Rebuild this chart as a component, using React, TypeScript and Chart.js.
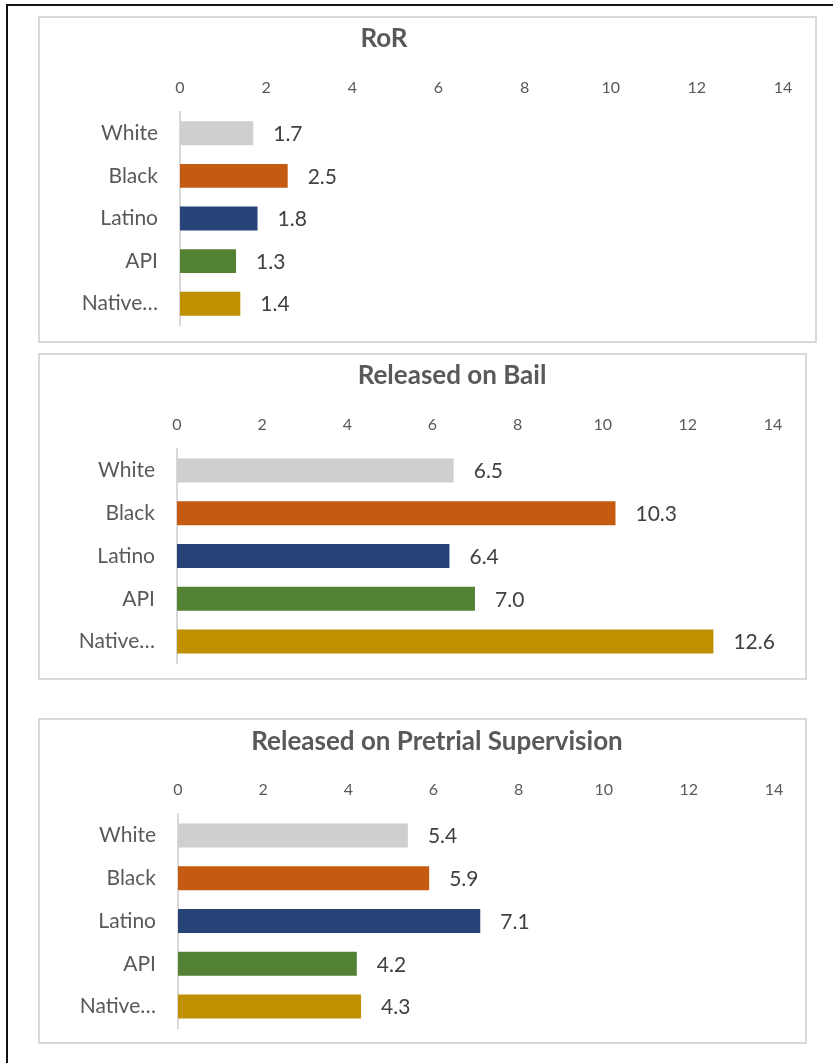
import React, { useEffect, useRef } from "react";
import { Chart, registerables } from "chart.js";

Chart.register(...registerables);

// ---- data ----
const categories = ["White", "Black", "Latino", "API", "Native…"];
const barColors = ["#d0cece", "#c55a11", "#264478", "#548235", "#bf9000"];
const rorValues = [1.7, 2.5, 1.8, 1.3, 1.4];
const bailValues = [6.5, 10.3, 6.4, 7.0, 12.6];
const pretrialValues = [5.4, 5.9, 7.1, 4.2, 4.3];
const axisMin = 0;
const axisMax = 14;
const axisStep = 2;
const chartTitles = ["RoR", "Released on Bail", "Released on Pretrial Supervision"];

const FONT = "Lato, 'Open Sans', sans-serif";

// ---- layout (page pixels) ----
const panels = [
  { left: 38, top: 16, width: 779, height: 327, values: rorValues, title: chartTitles[0],
    plotLeft: 140, padRight: 32, plotTop: 94, padBottom: 16, titleX: 344, titleY: 21 },
  { left: 38, top: 353, width: 769, height: 327, values: bailValues, title: chartTitles[1],
    plotLeft: 137, padRight: 32, plotTop: 94, padBottom: 15, titleX: 412, titleY: 21 },
  { left: 38, top: 718, width: 769, height: 326, values: pretrialValues, title: chartTitles[2],
    plotLeft: 138, padRight: 31, plotTop: 94, padBottom: 14, titleX: 397, titleY: 22 },
];

const valueLabelPlugin = {
  id: "valueLabels",
  afterDatasetsDraw(chart: any) {
    const ctx = chart.ctx;
    const meta = chart.getDatasetMeta(0);
    const data = chart.data.datasets[0].data;
    ctx.save();
    ctx.font = `21px ${FONT}`;
    ctx.fillStyle = "#404040";
    ctx.textAlign = "left";
    ctx.textBaseline = "middle";
    meta.data.forEach((bar: any, i: number) => {
      ctx.fillText(Number(data[i]).toFixed(1), bar.x + 20, bar.y + 1);
    });
    ctx.restore();
  },
};

const panelTitlePlugin = {
  id: "panelTitle",
  afterDraw(chart: any, _args: any, opts: any) {
    const ctx = chart.ctx;
    ctx.save();
    ctx.font = `bold 26px ${FONT}`;
    ctx.fillStyle = "#595959";
    ctx.textAlign = "center";
    ctx.textBaseline = "middle";
    ctx.fillText(opts.text, opts.x, opts.y);
    ctx.restore();
  },
};

function Panel(props: any) {
  const p = props.panel;
  const ref = useRef<HTMLCanvasElement | null>(null);
  const cw = p.width - 4;
  const ch = p.height - 4;

  useEffect(() => {
    if (!ref.current) return;
    const chart = new Chart(ref.current, {
      type: "bar",
      data: {
        labels: categories,
        datasets: [
          {
            data: p.values,
            backgroundColor: barColors,
            borderWidth: 0,
            barPercentage: 0.56,
            categoryPercentage: 1,
          },
        ],
      },
      options: {
        indexAxis: "y",
        responsive: false,
        animation: false,
        layout: { padding: { left: 0, top: 0, right: p.padRight, bottom: p.padBottom } },
        plugins: {
          legend: { display: false },
          tooltip: { enabled: false },
          title: { display: false },
          panelTitle: { text: p.title, x: p.titleX, y: p.titleY },
        } as any,
        scales: {
          x: {
            position: "top",
            min: axisMin,
            max: axisMax,
            grid: { display: false, drawTicks: false },
            border: { display: false },
            ticks: {
              stepSize: axisStep,
              color: "#595959",
              font: { family: FONT, size: 16 },
              padding: 15,
            },
            afterFit(scale: any) {
              scale.height = p.plotTop;
              scale.paddingLeft = 0;
              scale.paddingRight = 0;
            },
          },
          y: {
            grid: { display: false, drawTicks: false },
            border: { display: true, color: "#d9d9d9", width: 2 },
            ticks: {
              color: "#595959",
              font: { family: FONT, size: 21 },
              padding: 22,
            },
            afterFit(scale: any) {
              scale.width = p.plotLeft;
              scale.paddingTop = 0;
              scale.paddingBottom = 0;
            },
          },
        },
      } as any,
      plugins: [valueLabelPlugin, panelTitlePlugin],
    });
    return () => chart.destroy();
  }, []);

  return (
    <div
      style={{
        position: "absolute",
        left: p.left,
        top: p.top,
        width: p.width,
        height: p.height,
        boxSizing: "border-box",
        border: "2px solid #d9d9d9",
        background: "#ffffff",
      }}
    >
      <canvas ref={ref} width={cw} height={ch} style={{ display: "block", width: cw, height: ch }} />
    </div>
  );
}

export default function App() {
  return (
    <div
      style={{
        position: "absolute",
        left: 0,
        top: 0,
        width: 833,
        height: 1063,
        overflow: "hidden",
        background: "#ffffff",
      }}
    >
      <div
        style={{
          position: "absolute",
          left: 6,
          top: 4,
          width: 900,
          height: 1200,
          borderTop: "2px solid #111",
          borderLeft: "2px solid #111",
        }}
      />
      {panels.map((p, i) => (
        <Panel key={i} panel={p} />
      ))}
    </div>
  );
}
